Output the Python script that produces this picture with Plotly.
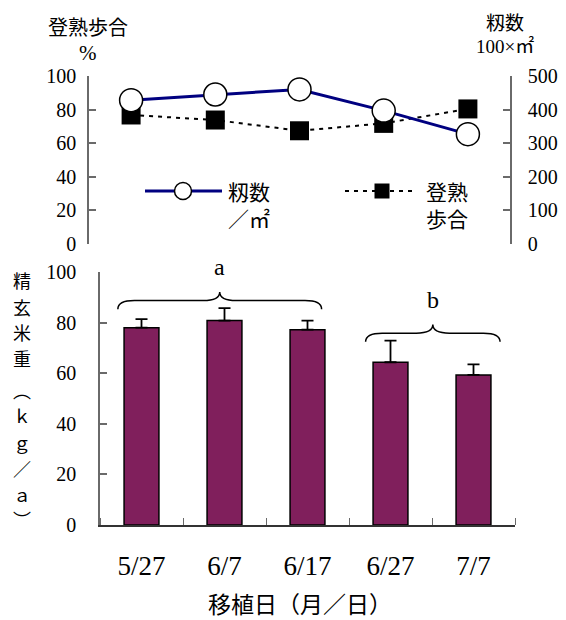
import plotly.graph_objects as go

# ---------------- data ----------------
dates = ["5/27", "6/7", "6/17", "6/27", "7/7"]
momi_count = [428, 445, 460, 397, 327]          # 籾数 (100×/㎡), right axis
ripening = [76.8, 73.8, 67.4, 71.8, 80.4]       # 登熟歩合 (%), left axis
brown_rice = [78.1, 80.9, 77.3, 64.4, 59.4]     # 精玄米重 (kg/a)
brown_rice_err = [3.4, 4.9, 3.6, 8.6, 4.2]
group_labels = ["a", "b"]
group_span = [(-0.285, 2.17), (2.70, 4.32)]     # brace extents (category index)
group_level = [88.8, 75.9]                      # brace height (kg/a)
y_title_chars = ["精", "玄", "米", "重", "︵", "ｋ", "ｇ", "／", "ａ", "︶"]

# the page body has an 8px default margin, so the figure is sized to fit the window
OFF = 8
W, H = 566 - OFF, 620 - OFF
JP = "Noto Sans CJK JP"
NUM = "Liberation Serif"
idx = list(range(len(dates)))

def px(x):
    return (x - OFF) / W

def py(y):
    return 1 - (y - OFF) / H

fig = go.Figure()

# ---------------- top panel ----------------
fig.add_trace(go.Scatter(
    x=idx, y=momi_count, xaxis="x", yaxis="y3", mode="lines+markers",
    line=dict(color="#000080", width=3),
    marker=dict(symbol="circle", size=23, color="white", line=dict(color="black", width=1.5)),
    showlegend=False, name="籾数／㎡"))
fig.add_trace(go.Scatter(
    x=idx, y=ripening, xaxis="x", yaxis="y", mode="lines+markers",
    line=dict(color="black", width=2, dash="4px,5px"),
    marker=dict(symbol="square", size=19, color="black", line=dict(color="black", width=0)),
    showlegend=False, name="登熟歩合"))

# ---------------- bottom panel ----------------
fig.add_trace(go.Bar(
    x=idx, y=brown_rice, xaxis="x2", yaxis="y2", width=0.42,
    marker=dict(color="#801F5C", line=dict(color="black", width=1.5)),
    error_y=dict(type="data", array=brown_rice_err, arrayminus=[0] * len(dates),
                 symmetric=False, color="black", thickness=1.8, width=6),
    showlegend=False, name="精玄米重"))

axis_common = dict(showgrid=False, zeroline=False, fixedrange=True, automargin=False)
gray = "#6a6a6a"

fig.update_layout(
    width=W, height=H,
    margin=dict(l=0, r=0, t=0, b=0, pad=0, autoexpand=False),
    paper_bgcolor="white", plot_bgcolor="rgba(0,0,0,0)",
    xaxis=dict(domain=[px(89), px(510)], range=[-0.5, 4.5], visible=False,
               anchor="y", **axis_common),
    yaxis=dict(domain=[py(244), py(76)], range=[0, 100], tickvals=[0, 20, 40, 60, 80, 100],
               ticks="inside", ticklen=7, tickwidth=1.5, tickcolor=gray,
               showline=True, linecolor=gray, linewidth=1.5,
               tickfont=dict(family=NUM, size=20, color="black"),
               ticklabelstandoff=7, anchor="x", **axis_common),
    yaxis3=dict(range=[0, 500], tickvals=[0, 100, 200, 300, 400, 500], overlaying="y",
                side="right", anchor="x",
                ticks="inside", ticklen=7, tickwidth=1.5, tickcolor=gray,
                showline=True, linecolor=gray, linewidth=1.5,
                tickfont=dict(family=NUM, size=20, color="black"),
                ticklabelstandoff=12, **axis_common),
    xaxis2=dict(domain=[px(100), px(515)], range=[-0.5, 4.5], anchor="y2",
                tickvals=idx, ticktext=dates, ticks="",
                minor=dict(tickvals=[i - 0.5 for i in range(len(dates) + 1)],
                           ticks="inside", ticklen=7, tickwidth=1.2, tickcolor=gray),
                showline=True, linecolor="#333", linewidth=1.5,
                tickfont=dict(family=NUM, size=27, color="black"),
                ticklabelstandoff=16, **axis_common),
    yaxis2=dict(domain=[py(525), py(272.3)], range=[0, 100], tickvals=[0, 20, 40, 60, 80, 100],
                anchor="x2", ticks="inside", ticklen=7, tickwidth=1.5, tickcolor=gray,
                showline=True, linecolor=gray, linewidth=1.5,
                tickfont=dict(family=NUM, size=20, color="black"),
                ticklabelstandoff=18, **axis_common),
)

annotations = []

def ann(text, x, y, size, family=JP, xanchor="center", align="center"):
    annotations.append(dict(text=text, x=px(x), y=py(y), xref="paper", yref="paper",
                            xanchor=xanchor, yanchor="middle", showarrow=False, align=align,
                            font=dict(family=family, size=size, color="black")))

# axis titles
ann("登熟歩合", 88, 26, 20)
ann("%", 88, 53, 21, family=NUM)
ann("籾数", 505, 21, 19)
ann("100×㎡", 505, 46, 19, family=NUM + ", " + JP)
y_title_pos = [280, 307, 332, 358, 390, 415, 442, 468, 494, 519]
for ch, yy in zip(y_title_chars, y_title_pos):
    ann(ch, 22, yy, 18)
ann("移植日（月／日）", 300, 603, 23)

# manual legend
ann("籾数<br>／㎡", 226, 205, 21, xanchor="left", align="left")
ann("登熟<br>歩合", 424, 205, 21, xanchor="left", align="left")

shapes = [
    dict(type="line", xref="paper", yref="paper", x0=px(145), x1=px(222), y0=py(191), y1=py(191),
         line=dict(color="#000080", width=3)),
    dict(type="circle", xref="paper", yref="paper", xsizemode="pixel", ysizemode="pixel",
         xanchor=px(183), yanchor=py(191), x0=-8.5, x1=8.5, y0=-8.5, y1=8.5,
         fillcolor="white", line=dict(color="black", width=1.5)),
    dict(type="line", xref="paper", yref="paper", x0=px(345), x1=px(413), y0=py(191), y1=py(191),
         line=dict(color="black", width=2, dash="4px,5px")),
    dict(type="rect", xref="paper", yref="paper", xsizemode="pixel", ysizemode="pixel",
         xanchor=px(382), yanchor=py(191), x0=-7.5, x1=7.5, y0=-7.5, y1=7.5,
         fillcolor="black", line=dict(color="black", width=0)),
]

# braces with significance letters
for lab, (x0, x1), yh in zip(group_labels, group_span, group_level):
    xm = (x0 + x1) / 2
    d = 3.4   # depth of brace in y units
    dx = 0.2
    path = (f"M {x0},{yh - d} Q {x0},{yh} {x0 + dx},{yh} L {xm - dx},{yh} "
            f"Q {xm},{yh} {xm},{yh + d} Q {xm},{yh} {xm + dx},{yh} "
            f"L {x1 - dx},{yh} Q {x1},{yh} {x1},{yh - d}")
    shapes.append(dict(type="path", xref="x2", yref="y2", path=path,
                       line=dict(color="black", width=1.5)))
    annotations.append(dict(text=lab, x=xm, y=yh + d + 4.0, xref="x2", yref="y2",
                            showarrow=False, yanchor="bottom",
                            font=dict(family=NUM, size=24, color="black")))

fig.update_layout(annotations=annotations, shapes=shapes)
fig.write_html("out.html")
